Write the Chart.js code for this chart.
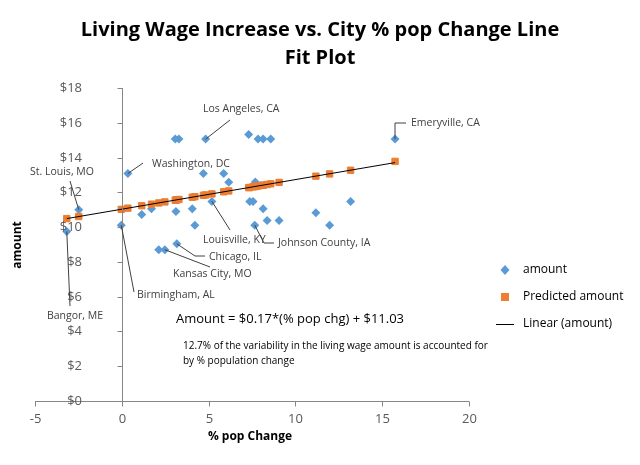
<!DOCTYPE html>
<html><head><meta charset="utf-8">
<script src="https://cdn.jsdelivr.net/npm/chart.js@4"></script>
<style>body{margin:0;background:#fff}canvas{display:block}</style>
</head><body><canvas id="c" width="640" height="465"></canvas>
<script>
const popChange = [-3.17,-2.48,-0.03,0.35,1.15,1.71,2.13,2.48,3.08,3.12,3.17,3.29,4.06,4.21,4.7,4.83,5.19,5.87,6.16,7.31,7.37,7.56,7.66,7.69,7.85,8.14,8.14,8.37,8.58,9.06,11.18,11.97,13.18,15.74];
const amount = [9.75,11.0,10.11,13.08,10.73,11.06,8.7,8.7,15.06,10.9,9.04,15.06,11.06,10.11,13.08,15.06,11.48,13.08,12.58,15.33,11.48,11.48,10.11,12.6,15.06,15.06,11.06,10.38,15.06,10.38,10.83,10.11,11.48,15.06];
const predicted = [10.49,10.61,11.02,11.09,11.23,11.32,11.39,11.45,11.55,11.56,11.57,11.59,11.72,11.75,11.83,11.85,11.91,12.03,12.08,12.27,12.28,12.32,12.33,12.34,12.36,12.41,12.41,12.45,12.49,12.57,12.93,13.06,13.27,13.78];
const trendX = [-3.17, 15.74];
const trendY = [10.49, 13.71];
const xTicks = [-5,0,5,10,15,20];
const yTicks = [0,2,4,6,8,10,12,14,16,18];
const cities = [
 {name:'Los Angeles, CA', x:4.83, y:15.06},
 {name:'Emeryville, CA', x:15.74, y:15.06},
 {name:'Washington, DC', x:0.35, y:13.08},
 {name:'St. Louis, MO', x:-2.48, y:11.0},
 {name:'Louisville, KY', x:5.19, y:11.48},
 {name:'Johnson County, IA', x:7.66, y:10.11},
 {name:'Chicago, IL', x:3.17, y:9.04},
 {name:'Kansas City, MO', x:2.48, y:8.7},
 {name:'Birmingham, AL', x:-0.03, y:10.11},
 {name:'Bangor, ME', x:-3.17, y:9.75}
];
const labelLayout = {
 'Los Angeles, CA': {tx:203,ty:109,path:[[230,120]]},
 'Emeryville, CA': {tx:411,ty:123,path:[[395,123],[406,123]]},
 'Washington, DC': {tx:152,ty:164,path:[[143,163]]},
 'St. Louis, MO': {tx:30,ty:172,path:[[70,181]]},
 'Louisville, KY': {tx:203,ty:240,path:[[230,230]]},
 'Johnson County, IA': {tx:278,ty:243,path:[[264,243],[274,243]]},
 'Chicago, IL': {tx:209,ty:257,path:[[195,256],[205,256]]},
 'Kansas City, MO': {tx:173,ty:274,path:[[210,267]]},
 'Birmingham, AL': {tx:137,ty:295,path:[[134,292]]},
 'Bangor, ME': {tx:47,ty:316,path:[[70,306]]}
};
const toPts = (xs, ys) => xs.map((v,i)=>({x:v,y:ys[i]}));
const FONT = '"Open Sans", "Liberation Sans", sans-serif';

const overlay = {
 id:'overlay',
 afterDatasetsDraw(chart){
  const c = chart.ctx, xs = chart.scales.x, ys = chart.scales.y;
  c.save();
  c.strokeStyle = '#868686'; c.lineWidth = 1;
  const x0 = Math.round(xs.getPixelForValue(0))+0.5, y0 = Math.round(ys.getPixelForValue(0))+0.5;
  c.beginPath(); c.moveTo(x0, ys.top); c.lineTo(x0, ys.bottom); c.stroke();
  c.beginPath(); c.moveTo(xs.left, y0); c.lineTo(xs.right, y0); c.stroke();
  c.fillStyle = '#595959'; c.font = '13px '+FONT;
  c.textAlign = 'center'; c.textBaseline = 'middle';
  xTicks.forEach(t=>{ const p = Math.round(xs.getPixelForValue(t))+0.5;
    c.beginPath(); c.moveTo(p,y0); c.lineTo(p,y0+5); c.stroke();
    c.fillText(String(t), p, y0+18); });
  c.textAlign = 'right';
  yTicks.forEach(t=>{ const p = Math.round(ys.getPixelForValue(t))+0.5;
    c.beginPath(); c.moveTo(x0-5,p); c.lineTo(x0,p); c.stroke();
    c.fillText('$'+t, 82, p); });
  c.fillStyle = '#000'; c.font = 'bold 12px '+FONT; c.textAlign='center';
  c.fillText('% pop Change', 250, 437);
  c.save(); c.translate(18, 245); c.rotate(-Math.PI/2); c.fillText('amount', 0, 0); c.restore();
  c.font = 'bold 20px '+FONT;
  c.fillText('Living Wage Increase vs. City % pop Change Line', 320, 30);
  c.fillText('Fit Plot', 320, 58);
  c.font = '10.5px '+FONT; c.textAlign='left'; c.strokeStyle='#404040';
  cities.forEach(ci=>{ const L = labelLayout[ci.name];
    const px = xs.getPixelForValue(ci.x), py = ys.getPixelForValue(ci.y);
    c.beginPath(); c.moveTo(px,py); L.path.forEach(q=>c.lineTo(q[0],q[1])); c.stroke();
    c.fillStyle='#404040'; c.fillText(ci.name, L.tx, L.ty); });
  c.fillStyle='#000'; c.font='13px '+FONT; c.textAlign='center';
  c.fillText('Amount = $0.17*(% pop chg) + $11.03', 290, 319);
  c.font='10px '+FONT; c.textAlign='left';
  c.fillText('12.7% of the variability in the living wage amount is accounted for', 183, 346);
  c.fillText('by % population change', 183, 361);
  c.font='12px '+FONT;
  c.fillStyle='#5B9BD5'; c.beginPath(); c.moveTo(505,265); c.lineTo(509.5,270); c.lineTo(505,275); c.lineTo(500.5,270); c.closePath(); c.fill();
  c.fillStyle='#ED7D31'; c.fillRect(501,293,8,8);
  c.strokeStyle='#000'; c.beginPath(); c.moveTo(496,324.5); c.lineTo(514,324.5); c.stroke();
  c.fillStyle='#000';
  c.fillText('amount', 523, 270); c.fillText('Predicted amount', 523, 297); c.fillText('Linear (amount)', 523, 324);
  c.restore();
 }
};

new Chart(document.getElementById('c'), {
 type:'scatter',
 data:{datasets:[
  {label:'Linear (amount)', data:toPts(trendX,trendY), showLine:true, borderColor:'#000', borderWidth:1, pointRadius:0, order:1},
  {label:'Predicted amount', data:toPts(popChange,predicted), pointStyle:'rect', pointRadius:4.5, backgroundColor:'#ED7D31', borderColor:'#ED7D31', order:2},
  {label:'amount', data:toPts(popChange,amount), pointStyle:'rectRot', pointRadius:4.5, backgroundColor:'#5B9BD5', borderColor:'#5B9BD5', borderWidth:0, order:3}
 ]},
 options:{responsive:false, animation:false,
  layout:{padding:{left:35,right:171,top:88,bottom:64}},
  plugins:{legend:{display:false},tooltip:{enabled:false}},
  scales:{
   x:{type:'linear', min:-5, max:20, display:false},
   y:{type:'linear', min:0, max:18, display:false}
  }},
 plugins:[overlay]
});
</script></body></html>
